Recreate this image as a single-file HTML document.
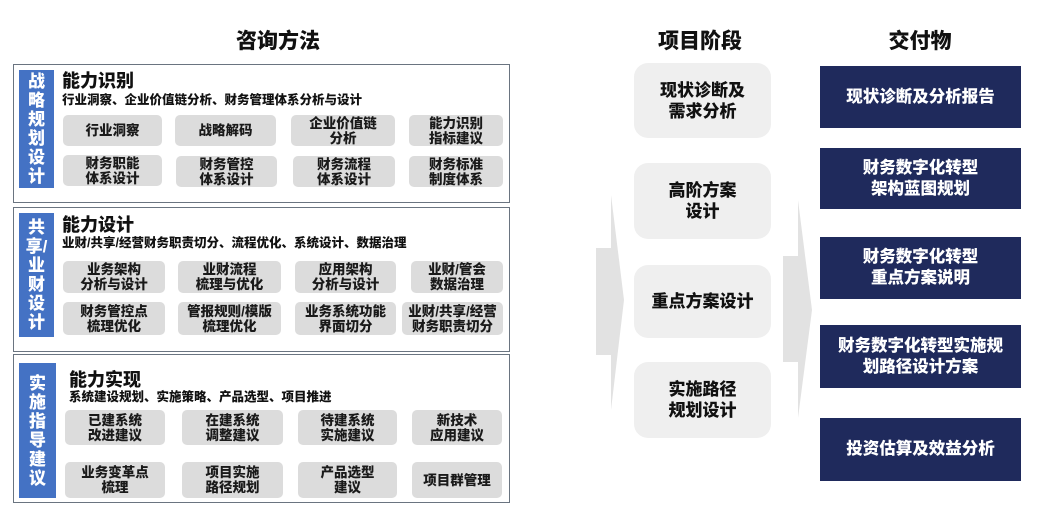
<!DOCTYPE html>
<html><head><meta charset="utf-8"><style>
body{margin:0;width:1038px;height:520px;background:#fff;position:relative;overflow:hidden;font-family:"Liberation Sans","Noto Sans CJK SC",sans-serif;font-weight:900;color:#111}
div{position:absolute;box-sizing:border-box}
.h{font-size:21px;text-align:center;top:28px;height:28px;line-height:28px}
.p{left:13px;width:497px;border:1.5px solid #6a7480;background:#fff}
.bar{background:#4472c4;color:#fff;font-size:17px;line-height:19px;text-align:center;display:flex;align-items:center;justify-content:center;padding:0 6px}
.t{font-size:18px;line-height:20px}
.s{font-size:12.5px;line-height:15px}
.b{background:#dcdcdc;border-radius:5px;font-size:13.5px;line-height:15px;text-align:center;display:flex;align-items:center;justify-content:center;color:#1a1a1a}
.m{left:634px;width:137px;background:#efefef;border-radius:14px;font-size:17px;line-height:21px;text-align:center;display:flex;align-items:center;justify-content:center}
.r{left:820px;width:201px;background:#1f2a5c;color:#fff;font-size:16.5px;line-height:21px;text-align:center;display:flex;align-items:center;justify-content:center}
</style></head><body>
<div class="h" style="left:200px;width:156px">咨询方法</div>
<div class="h" style="left:640px;width:120px">项目阶段</div>
<div class="h" style="left:860px;width:120px">交付物</div>

<svg style="position:absolute;left:0;top:0" width="1038" height="520">
<polygon points="596,248 611,248 611,195 624,300 611,410 611,355 596,355" fill="#e2e2e2"/>
<polygon points="783,256 798,256 798,200 812,310 798,418 798,362 783,362" fill="#e2e2e2"/>
</svg>

<div class="p" style="top:64px;height:139px"></div>
<div class="bar" style="left:19px;top:70px;width:35px;height:118px">战略规划设计</div>
<div class="t" style="left:62px;top:71px">能力识别</div>
<div class="s" style="left:62px;top:93px">行业洞察、企业价值链分析、财务管理体系分析与设计</div>
<div class="b" style="left:63px;top:115px;width:99px;height:31px">行业洞察</div>
<div class="b" style="left:175px;top:115px;width:101px;height:31px">战略解码</div>
<div class="b" style="left:291px;top:115px;width:104px;height:31px">企业价值链<br>分析</div>
<div class="b" style="left:409px;top:115px;width:94px;height:31px">能力识别<br>指标建议</div>
<div class="b" style="left:63px;top:155px;width:99px;height:31px">财务职能<br>体系设计</div>
<div class="b" style="left:176px;top:156px;width:101px;height:31px">财务管控<br>体系设计</div>
<div class="b" style="left:293px;top:156px;width:102px;height:31px">财务流程<br>体系设计</div>
<div class="b" style="left:409px;top:156px;width:94px;height:31px">财务标准<br>制度体系</div>

<div class="p" style="top:207px;height:145px"></div>
<div class="bar" style="left:19px;top:213px;width:35px;height:124px;padding:0 3px">共享/业财设计</div>
<div class="t" style="left:62px;top:215px">能力设计</div>
<div class="s" style="left:62px;top:236px">业财/共享/经营财务职责切分、流程优化、系统设计、数据治理</div>
<div class="b" style="left:63px;top:261px;width:102px;height:32px">业务架构<br>分析与设计</div>
<div class="b" style="left:178px;top:261px;width:103px;height:32px">业财流程<br>梳理与优化</div>
<div class="b" style="left:295px;top:261px;width:101px;height:32px">应用架构<br>分析与设计</div>
<div class="b" style="left:411px;top:261px;width:92px;height:32px">业财/管会<br>数据治理</div>
<div class="b" style="left:63px;top:302px;width:102px;height:33px">财务管控点<br>梳理优化</div>
<div class="b" style="left:178px;top:302px;width:103px;height:33px">管报规则/模版<br>梳理优化</div>
<div class="b" style="left:295px;top:302px;width:101px;height:33px">业务系统功能<br>界面切分</div>
<div class="b" style="left:402px;top:302px;width:101px;height:33px">业财/共享/经营<br>财务职责切分</div>

<div class="p" style="top:354px;height:149px"></div>
<div class="bar" style="left:19px;top:363px;width:37px;height:135px">实施指导建议</div>
<div class="t" style="left:69px;top:370px">能力实现</div>
<div class="s" style="left:69px;top:390px">系统建设规划、实施策略、产品选型、项目推进</div>
<div class="b" style="left:65px;top:410px;width:100px;height:35px">已建系统<br>改进建议</div>
<div class="b" style="left:182px;top:410px;width:101px;height:35px">在建系统<br>调整建议</div>
<div class="b" style="left:298px;top:410px;width:99px;height:35px">待建系统<br>实施建议</div>
<div class="b" style="left:412px;top:410px;width:90px;height:35px">新技术<br>应用建议</div>
<div class="b" style="left:65px;top:462px;width:100px;height:36px">业务变革点<br>梳理</div>
<div class="b" style="left:182px;top:462px;width:101px;height:36px">项目实施<br>路径规划</div>
<div class="b" style="left:298px;top:462px;width:99px;height:36px">产品选型<br>建议</div>
<div class="b" style="left:412px;top:462px;width:90px;height:36px">项目群管理</div>

<div class="m" style="top:63px;height:75px">现状诊断及<br>需求分析</div>
<div class="m" style="top:163px;height:76px">高阶方案<br>设计</div>
<div class="m" style="top:265px;height:73px">重点方案设计</div>
<div class="m" style="top:362px;height:76px">实施路径<br>规划设计</div>

<div class="r" style="top:66px;height:62px">现状诊断及分析报告</div>
<div class="r" style="top:148px;height:61px">财务数字化转型<br>架构蓝图规划</div>
<div class="r" style="top:237px;height:62px">财务数字化转型<br>重点方案说明</div>
<div class="r" style="top:325px;height:63px">财务数字化转型实施规<br>划路径设计方案</div>
<div class="r" style="top:418px;height:63px">投资估算及效益分析</div>
</body></html>
